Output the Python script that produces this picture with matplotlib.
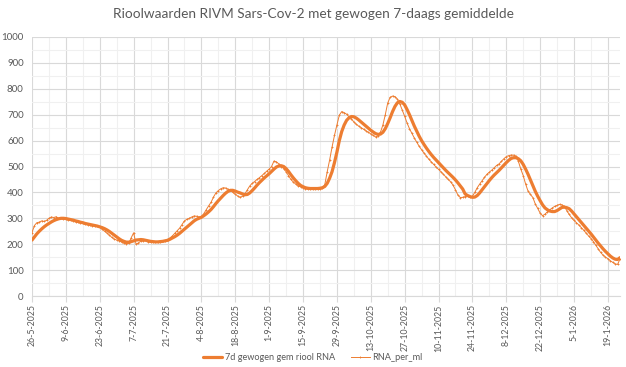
import matplotlib
matplotlib.use("Agg")
import matplotlib.pyplot as plt
import matplotlib.dates as mdates
import numpy as np
import pandas as pd

start_date = "2025-05-26"

rna_per_ml = [
    245, 272, 283, 285, 290, 288, 292, 300, 305, 303,
    306, 300, 302, 296, 298, 293, 294, 290, 287, 285,
    283, 280, 278, 276, 274, 272, 271, 270, 266, 258,
    250, 243, 235, 226, 220, 216, 214, 208, 204, 202,
    203, 225, 244, 200, 205, 212, 213, 215, 210, 208,
    207, 208, 209, 210, 212, 213, 218, 224, 232, 242,
    252, 262, 276, 290, 296, 300, 305, 309, 308, 305,
    306, 318, 333, 348, 362, 382, 398, 407, 414, 418,
    417, 412, 408, 400, 393, 386, 381, 385, 395, 410,
    425, 435, 442, 450, 457, 465, 473, 482, 490, 500,
    521, 518, 510, 500, 492, 480, 465, 450, 440, 432,
    425, 422, 418, 415, 413, 413, 412, 413, 413, 414,
    418, 430, 480, 525, 575, 620, 660, 698, 712, 708,
    702, 692, 684, 672, 663, 656, 650, 644, 638, 632,
    626, 620, 614, 618, 632, 660, 700, 745, 767, 772,
    770, 760, 742, 718, 694, 668, 646, 628, 610, 594,
    578, 565, 552, 540, 528, 518, 508, 498, 489, 480,
    470, 460, 450, 441, 428, 410, 390, 380, 381, 384,
    385, 382, 385, 400, 418, 432, 445, 458, 470, 478,
    486, 495, 504, 510, 520, 530, 538, 542, 544, 544,
    540, 520, 490, 465, 432, 405, 392, 380, 355, 338,
    320, 310, 316, 325, 333, 340, 346, 350, 354, 352,
    346, 330, 315, 302, 292, 283, 274, 264, 254, 243,
    232, 222, 210, 196, 182, 168, 158, 150, 144, 136,
    130, 124, 122, 143,
]

gewogen_7d = [
    216, 228, 240, 250, 259, 267, 274, 280, 286, 291,
    295, 298, 300, 300, 299, 297, 295, 293, 290, 288,
    285, 283, 280, 278, 276, 274, 272, 270, 267, 264,
    260, 255, 249, 242, 235, 228, 221, 215, 211, 208,
    208, 210, 213, 216, 217, 218, 217, 215, 213, 211,
    210, 209, 209, 210, 211, 213, 215, 219, 224, 229,
    235, 242, 250, 258, 266, 274, 282, 290, 296, 300,
    304, 310, 317, 325, 334, 345, 357, 368, 378, 388,
    397, 404, 408, 408, 405, 401, 398, 394, 391, 392,
    398, 407, 417, 428, 438, 447, 456, 464, 472, 481,
    490, 498, 502, 503, 500, 492, 481, 468, 456, 445,
    435, 427, 422, 418, 416, 415, 415, 415, 415, 416,
    418, 423, 435, 455, 480, 515, 555, 600, 635, 660,
    678, 688, 693, 692, 687, 680, 672, 664, 656, 648,
    640, 633, 627, 624, 625, 632, 646, 666, 688, 712,
    732, 746, 751, 748, 738, 720, 700, 678, 656, 636,
    617, 600, 585, 571, 558, 546, 535, 525, 515, 505,
    495, 485, 476, 467, 458, 448, 437, 425, 413, 394,
    388, 384, 381, 382, 388, 398, 410, 422, 434, 446,
    457, 467, 476, 485, 495, 505, 515, 524, 531, 534,
    534, 530, 522, 508, 490, 470, 448, 425, 404, 385,
    368, 352, 340, 333, 328, 326, 326, 330, 336, 342,
    343, 341, 337, 328, 317, 306, 295, 284, 273, 262,
    251, 240, 228, 216, 204, 193, 182, 172, 163, 154,
    147, 142, 141, 148,
]

title = "Rioolwaarden RIVM Sars-Cov-2 met gewogen 7-daags gemiddelde"
label_7d = "7d gewogen gem riool RNA"
label_rna = "RNA_per_ml"

dates = pd.date_range(start_date, periods=len(rna_per_ml), freq="D")

plt.rcParams['font.family'] = ['Lato', 'DejaVu Sans']
orange = "#ED7D31"
txt = "#595959"

fig = plt.figure(figsize=(6.26, 3.67), dpi=100)
ax = fig.add_axes([32/626, 1-296/367, (620-32)/626, (296-37)/367])

ax.plot(dates, gewogen_7d, color=orange, lw=2.3, label=label_7d, zorder=3,
        solid_capstyle='round')
ax.plot(dates, rna_per_ml, color=orange, lw=0.7, marker='+', ms=1.6, mew=0.6,
        label=label_rna, zorder=4)

ax.set_ylim(0, 1000)
ax.set_xlim(dates[0], dates[-1])
ax.yaxis.set_major_locator(matplotlib.ticker.MultipleLocator(100))
ax.yaxis.set_minor_locator(matplotlib.ticker.MultipleLocator(50))

major_ticks = pd.date_range(start_date, dates[-1], freq="14D")
minor_ticks = pd.date_range(start_date, dates[-1], freq="7D")
ax.set_xticks(major_ticks)
ax.set_xticks(minor_ticks, minor=True)
ax.set_xticklabels([f"{d.day}-{d.month}-{d.year}" for d in major_ticks],
                   rotation=90, fontsize=6.3, color=txt)

ax.grid(which='major', color='#D9D9D9', lw=0.8, zorder=0)
ax.grid(which='minor', color='#F0F0F0', lw=0.8, zorder=0)
ax.set_axisbelow(True)

for s in ['top', 'right', 'left']:
    ax.spines[s].set_visible(False)
ax.spines['bottom'].set_color('#D9D9D9')
ax.tick_params(axis='y', which='both', length=0, labelsize=7, labelcolor=txt, pad=6)
ax.tick_params(axis='x', which='major', length=4, color='#D9D9D9', pad=2)
ax.tick_params(axis='x', which='minor', length=0)

fig.text(0.5, 1-14/367, title, ha='center', va='center', fontsize=9.8, color=txt)

leg = fig.legend(loc='center', bbox_to_anchor=(0.5, 1-358/367), ncol=2,
                 frameon=False, fontsize=6.6, labelcolor=txt, handlelength=2.0,
                 columnspacing=1.8, handletextpad=0.3)

fig.savefig("out.png", dpi=100)
